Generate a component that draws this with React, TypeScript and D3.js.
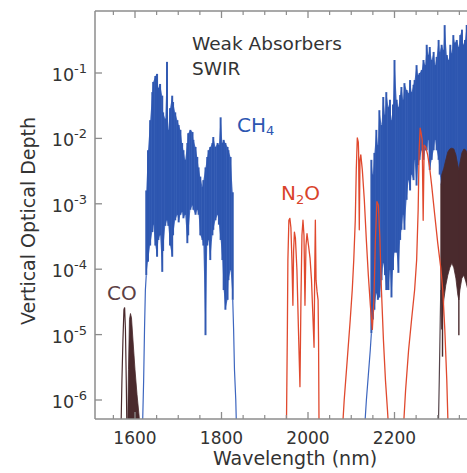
import React from 'react';
import * as d3 from 'd3';

// ---------- data (wavelength nm, vertical optical depth) ----------
// CH4 spectral lines: [wavelength, upper value, lower value]
const ch4Band1: [number, number, number][] = [
  [1626, 1.6e-3, 8.1e-5], [1630, 6.6e-3, 1.3e-4], [1635, 1.9e-2, 2.3e-4], [1640, 5.1e-2, 3.7e-4],
  [1642, 7.3e-2, 4.8e-4], [1647, 9.0e-2, 2.3e-4], [1651, 9.7e-2, 1.55e-4], [1654, 5.9e-2, 2.8e-4],
  [1658, 6.8e-2, 3.3e-4], [1663, 4.5e-2, 9.1e-5], [1665, 2.5e-2, 1.9e-4], [1670, 2.0e-2, 4.6e-4],
  [1674, 1.48e-1, 5.6e-4], [1677, 1.35e-2, 4.6e-4], [1681, 2.9e-2, 2.3e-4], [1686, 4.5e-2, 1.55e-4],
  [1688, 3.6e-2, 3.3e-4], [1693, 2.5e-2, 5.6e-4], [1698, 1.9e-2, 6.8e-4], [1701, 1.6e-2, 5.2e-4],
  [1705, 1.35e-2, 6.8e-4], [1709, 8.5e-3, 7.5e-4], [1712, 6.6e-3, 6.0e-4], [1716, 4.7e-3, 6.8e-4],
  [1721, 8.5e-3, 2.5e-4], [1723, 1.2e-2, 3.3e-4], [1728, 1.35e-2, 8.1e-4], [1733, 1.25e-2, 9.5e-4],
  [1735, 9.5e-3, 8.1e-4], [1740, 7.4e-3, 6.8e-4], [1744, 5.2e-3, 8.1e-4], [1747, 3.6e-3, 6.8e-4],
  [1751, 2.6e-3, 3.3e-4], [1756, 1.8e-3, 2.8e-4], [1758, 2.3e-3, 2.3e-4], [1763, 3.6e-3, 9.8e-6],
  [1767, 5.2e-3, 2.3e-4], [1770, 6.6e-3, 2.8e-4], [1774, 7.4e-3, 1.38e-4], [1779, 8.5e-3, 3.3e-4],
  [1781, 1.05e-2, 4.0e-4], [1786, 7.4e-3, 5.6e-4], [1791, 8.5e-3, 6.8e-4], [1794, 7.9e-3, 4.8e-4],
  [1798, 2.1e-2, 2.8e-4], [1802, 8.5e-3, 1.38e-4], [1805, 9.5e-3, 4.8e-5], [1809, 8.5e-3, 2.4e-5],
  [1814, 7.4e-3, 3.4e-5], [1816, 6.6e-3, 6.8e-5], [1821, 5.2e-3, 9.7e-5], [1826, 1.5e-3, 3.4e-5],
];
const ch4Band1WingL: [number, number][] = [[1617, 3e-7], [1620, 2.0e-6], [1622, 1.2e-5], [1624, 4.8e-5], [1626, 8.1e-5]];
const ch4Band1WingR: [number, number][] = [[1826, 3.4e-5], [1828, 1.2e-5], [1830, 2.9e-6], [1833, 1e-6], [1835, 3e-7]];

const ch4Band2: [number, number, number][] = [
  [2146.5, 4.7e-3, 1.05e-5], [2150, 2.8e-3, 1.7e-5], [2153.5, 6.0e-3, 2.4e-5], [2158, 1.35e-2, 4.3e-5],
  [2161.5, 7.9e-3, 3.4e-5], [2165, 2.7e-2, 3.7e-5], [2170, 1.6e-2, 6.8e-5], [2174, 4.3e-2, 1.24e-4],
  [2178, 2.3e-2, 8.1e-5], [2181, 5.1e-2, 4.8e-5], [2186, 3.0e-2, 4.8e-5], [2189.5, 3.9e-2, 9.7e-5],
  [2193, 1.9e-2, 3.7e-5], [2196.5, 3.3e-2, 9.7e-5], [2200, 1.58e-1, 1.8e-4], [2205, 3.9e-2, 1.8e-4],
  [2209, 3.0e-2, 8.8e-5], [2213, 4.6e-2, 2.8e-4], [2216, 6.1e-2, 4.0e-4], [2220, 3.9e-2, 6.8e-4],
  [2223, 7.0e-2, 4.0e-4], [2228, 5.5e-2, 1.15e-3], [2232.5, 4.9e-2, 2.3e-3], [2236, 7.8e-2, 1.6e-3],
  [2239.5, 5.1e-2, 2.8e-3], [2244, 6.6e-2, 2.3e-3], [2246.5, 7.8e-2, 4.7e-3], [2251, 1.32e-1, 1.9e-3],
  [2254.5, 9.3e-2, 3.9e-3], [2258, 1.0e-1, 4.7e-3], [2263, 1.11e-1, 6.6e-3], [2267, 1.58e-1, 4.7e-3],
  [2271, 1.32e-1, 6.6e-3], [2274.5, 2.7e-1, 6.6e-3], [2278, 1.88e-1, 9.5e-3], [2281.5, 2.5e-1, 3.3e-3],
  [2286, 1.58e-1, 4.7e-3], [2290.5, 2.1e-1, 6.6e-3], [2294, 1.32e-1, 9.5e-3], [2297.5, 1.76e-1, 6.6e-3],
  [2302, 3.2e-1, 4.7e-3], [2304.5, 2.1e-1, 2.8e-3], [2309, 2.7e-1, 1.9e-3], [2313, 2.25e-1, 1.6e-3],
  [2316, 5.4e-1, 1.15e-3], [2321, 1.88e-1, 1.36e-3], [2325.5, 1.58e-1, 1.15e-3], [2329, 2.7e-1, 1.6e-3],
  [2332.5, 2.0e-1, 1.6e-3], [2336, 3.8e-1, 1.15e-3], [2339.5, 2.9e-1, 1.36e-3], [2344, 3.2e-1, 1.15e-3],
  [2349, 2.5e-1, 1.6e-3], [2352, 3.8e-1, 1.36e-3], [2356, 4.6e-1, 1.15e-3], [2359, 2.7e-1, 1.6e-3],
  [2363, 3.2e-1, 1.36e-3], [2367, 5.4e-1, 1.15e-3], [2371, 5.8e-1, 1.36e-3], [2374, 4.6e-1, 1.15e-3],
  [2379, 4.9e-1, 1.15e-3],
];
const ch4Band2WingL: [number, number][] = [[2130, 3e-7], [2135, 1e-6], [2139.5, 2.4e-6], [2144, 5.8e-6], [2146.5, 1.05e-5]];

// N2O absorption curves: [wavelength, value]
const n2oBand1: [number, number][] = [
  [1950.0, 3e-7], [1952.3, 1.2e-5], [1953.5, 1.38e-4], [1955.8, 5.6e-4], [1958.1, 6.0e-4], [1960.5, 4.3e-4],
  [1962.8, 1.38e-4], [1965.1, 2.8e-5], [1966.7, 1.9e-4], [1968.6, 3.7e-4], [1970.9, 3.0e-4], [1974.4, 9.7e-5],
  [1977.9, 1.2e-5], [1981.4, 1.6e-6], [1983.7, 3.4e-5], [1986.0, 3.3e-4], [1988.4, 5.6e-4], [1990.7, 3.3e-4],
  [1993.0, 2.8e-5], [1995.3, 2.3e-4], [1997.7, 3.5e-4], [2001.2, 2.3e-4], [2004.7, 1.48e-4], [2008.1, 6.8e-5],
  [2011.6, 1.7e-5], [2014.0, 6.4e-6], [2015.6, 9.7e-5], [2017.0, 5.6e-4], [2018.6, 6.8e-5], [2021.0, 4.5e-5],
  [2023.3, 3.4e-5], [2024.4, 8.3e-6], [2025.6, 3e-7],
];
const n2oBand2: [number, number][] = [
  [2079, 3e-7], [2083.7, 1e-6], [2090.7, 4.1e-6], [2097.7, 1.7e-5], [2102.3, 4.8e-5], [2105.8, 1.38e-4],
  [2109.3, 5.6e-4], [2111.6, 3.3e-3], [2114.0, 1.02e-2], [2116.3, 8.8e-3], [2117.0, 6.2e-3], [2118.6, 4.0e-4],
  [2120.2, 4.7e-3], [2122.1, 5.6e-3], [2125.6, 3.3e-3], [2130.2, 1.15e-3], [2134.9, 2.8e-4], [2139.5, 8.1e-5],
  [2144.2, 2.8e-5], [2148.8, 1.2e-5], [2152.3, 3.4e-5], [2155.8, 2.8e-4], [2159.3, 1.08e-3], [2162.8, 9.5e-4],
  [2166.3, 2.8e-4], [2169.8, 4.8e-5], [2174.4, 8.3e-6], [2179.1, 2.0e-6], [2183.7, 7.1e-7], [2187.2, 3e-7],
];
const n2oBand3: [number, number][] = [
  [2219.8, 3e-7], [2225.6, 1.4e-6], [2232.6, 5.8e-6], [2239.5, 1.7e-5], [2246.5, 4.8e-5], [2251.2, 1.38e-4],
  [2254.7, 8.1e-4], [2257.0, 6.6e-3], [2259.3, 1.44e-2], [2261.6, 1.2e-2], [2264.0, 9.5e-3], [2266.3, 5.6e-4],
  [2268.6, 7.9e-3], [2272.1, 7.4e-3], [2276.7, 5.6e-3], [2281.4, 3.5e-3], [2286.0, 1.9e-3], [2293.0, 6.8e-4],
  [2300.0, 2.5e-4], [2307.0, 1.05e-4], [2311.6, 4.8e-5], [2316.3, 1.2e-5], [2320.9, 2.0e-6], [2324.4, 3e-7],
];

// CO
const coBand1Outline: [number, number][] = [
  [1567.4, 3e-7], [1569.8, 2.0e-6], [1572.1, 8.3e-6], [1574.4, 2.4e-5], [1576, 2.6e-5], [1577.9, 1.2e-5],
  [1579.8, 2.0e-6], [1581.4, 3e-7],
];
const coBand1Fill: [number, number][] = [
  [1582.6, 3e-7], [1584.9, 2.9e-6], [1587.2, 1.7e-5], [1589.5, 2.1e-5], [1591.9, 1.8e-5], [1595.3, 8.3e-6],
  [1600, 2.9e-6], [1604.7, 1.2e-6], [1609.3, 5.9e-7], [1612.8, 3e-7],
];
const coBand2: [number, number, number][] = [
  [2307.0, 1.9e-3, 4.8e-5], [2309.3, 2.8e-3, 1.2e-5], [2314.0, 3.5e-3, 3.4e-5], [2318.6, 4.7e-3, 5.7e-5],
  [2323.3, 6.2e-3, 8.1e-5], [2327.9, 6.9e-3, 1.05e-4], [2332.6, 7.1e-3, 1.24e-4], [2337.2, 6.9e-3, 1.05e-4],
  [2341.9, 5.6e-3, 7.3e-5], [2346.5, 3.9e-3, 4.0e-5], [2348.8, 3.3e-3, 3.4e-5], [2351.2, 4.2e-3, 4.8e-5],
  [2355.8, 6.0e-3, 7.3e-5], [2360.5, 6.9e-3, 8.1e-5], [2365.1, 6.6e-3, 6.4e-5], [2369.8, 5.4e-3, 4.8e-5],
  [2374.4, 4.2e-3, 4.0e-5], [2379.1, 3.3e-3, 3.4e-5],
];
const coBand2Wing: [number, number][] = [[2301.2, 3e-7], [2303.5, 2.0e-6], [2305.8, 1.7e-5], [2307, 4.8e-5]];
const coBand2Lines: [number, number, number][] = [[2311, 2.8e-3, 4.6e-6], [2348.8, 3.3e-3, 9.8e-6]];

// axis ticks
const xMajorTicks = [1600, 1800, 2000, 2200, 2400];
const xTickLabels = ['1600', '1800', '2000', '2200'];
const xMinorTicks = [1550, 1650, 1700, 1750, 1850, 1900, 1950, 2050, 2100, 2150, 2250, 2300, 2350];
const yTickExponents = [-1, -2, -3, -4, -5, -6];

// ---------- layout ----------
const W = 467;
const H = 473;
const FONT = 'DejaVu Sans, Verdana, sans-serif';
const BLUE = '#2c55b0';
const RED = '#e0492e';
const BROWN = '#4a2a2d';
const AXIS = '#8c8c8c';

const x = d3.scaleLinear().domain([1600, 2200]).range([135, 394.5]);
const y = d3.scaleLog().domain([1e-6, 1e-1]).range([400, 73]);
const left = 95;
const right = 500;
const top = 11;
const bottom = 419;

const line = d3
  .line<[number, number]>()
  .x((d) => x(d[0]))
  .y((d) => y(d[1]));

const areaToBottom = d3
  .area<[number, number]>()
  .x((d) => x(d[0]))
  .y0(bottom + 5)
  .y1((d) => y(d[1]));

const band = d3
  .area<[number, number, number]>()
  .x((d) => x(d[0]))
  .y0((d) => y(d[2]))
  .y1((d) => y(d[1]));

export default function App() {
  const spikes = (data: [number, number, number][], color: string, w: number, key: string) =>
    data.map((d, i) => (
      <line key={key + i} x1={x(d[0])} x2={x(d[0])} y1={y(d[1])} y2={y(d[2])} stroke={color} strokeWidth={w} />
    ));

  return (
    <svg width={W} height={H} style={{ position: 'absolute', left: 0, top: 0, background: '#fff' }} fontFamily={FONT}>
      <defs>
        <clipPath id="plot">
          <rect x={left} y={top} width={right - left} height={bottom - top} />
        </clipPath>
      </defs>
      <rect x={0} y={0} width={W} height={H} fill="#fff" />

      <g clipPath="url(#plot)">
        {/* CH4 */}
        <path d={band(ch4Band1) || ''} fill="#3a63bb" stroke="none" opacity={0.9} />
        <g opacity={0.95}>{spikes(ch4Band1, BLUE, 2, 'c1')}</g>
        <path d={line(ch4Band1WingL) || ''} fill="none" stroke="#3d66bf" strokeWidth={1.2} />
        <path d={line(ch4Band1WingR) || ''} fill="none" stroke="#3d66bf" strokeWidth={1.2} />
        <path d={band(ch4Band2) || ''} fill="#3a63bb" stroke="none" opacity={0.9} />
        <g opacity={0.95}>{spikes(ch4Band2, BLUE, 2, 'c2')}</g>
        <path d={line(ch4Band2WingL) || ''} fill="none" stroke="#3d66bf" strokeWidth={1.2} />

        {/* CO */}
        <path d={line(coBand1Outline) || ''} fill="none" stroke={BROWN} strokeWidth={1.2} />
        <path d={areaToBottom(coBand1Fill) || ''} fill={BROWN} stroke={BROWN} strokeWidth={0.8} />
        <path d={band(coBand2) || ''} fill={BROWN} stroke={BROWN} strokeWidth={0.8} />
        <path d={line(coBand2Wing) || ''} fill="none" stroke="#55444a" strokeWidth={1.2} />
        {spikes(coBand2Lines, BROWN, 1.4, 'co')}

        {/* N2O */}
        {[n2oBand1, n2oBand2, n2oBand3].map((b, i) => (
          <path key={'n' + i} d={line(b) || ''} fill="none" stroke={RED} strokeWidth={1.3} strokeLinejoin="round" />
        ))}
      </g>

      {/* frame */}
      <line x1={left} x2={left} y1={top} y2={bottom} stroke={AXIS} strokeWidth={1.5} />
      <line x1={left} x2={right} y1={bottom} y2={bottom} stroke={AXIS} strokeWidth={1.5} />
      <line x1={left} x2={right} y1={top} y2={top} stroke={AXIS} strokeWidth={1.5} />

      {/* x ticks */}
      {xMajorTicks.map((t) => (
        <g key={'xm' + t}>
          <line x1={x(t)} x2={x(t)} y1={bottom} y2={bottom - 7} stroke={AXIS} strokeWidth={1.3} />
          <line x1={x(t)} x2={x(t)} y1={top} y2={top + 7} stroke={AXIS} strokeWidth={1.3} />
        </g>
      ))}
      {xTickLabels.map((t) => (
        <text key={'xl' + t} x={x(+t)} y={444} textAnchor="middle" fontSize={17} fill="#333">
          {t}
        </text>
      ))}
      {xMinorTicks.map((t) => (
        <g key={'xn' + t}>
          <line x1={x(t)} x2={x(t)} y1={bottom} y2={bottom - 4} stroke={AXIS} strokeWidth={1.2} />
          <line x1={x(t)} x2={x(t)} y1={top} y2={top + 4} stroke={AXIS} strokeWidth={1.2} />
        </g>
      ))}

      {/* y ticks */}
      {yTickExponents.map((e) => (
        <g key={'y' + e}>
          <line x1={left} x2={left + 7} y1={y(Math.pow(10, e))} y2={y(Math.pow(10, e))} stroke={AXIS} strokeWidth={1.3} />
          <text x={87} y={y(Math.pow(10, e)) + 8} textAnchor="end" fill="#333" fontSize={17.5}>
            <tspan>10</tspan>
            <tspan dy={-8} fontSize={13}>{'-' + Math.abs(e)}</tspan>
          </text>
        </g>
      ))}

      {/* axis titles */}
      <text x={295} y={465} textAnchor="middle" fontSize={19} fill="#333">
        Wavelength (nm)
      </text>
      <text transform="translate(35,221) rotate(-90)" textAnchor="middle" fontSize={19} fill="#333">
        Vertical Optical Depth
      </text>

      {/* annotations */}
      <text x={192} y={50} fontSize={18.5} fill="#333">Weak Absorbers</text>
      <text x={192} y={75} fontSize={18.5} fill="#333">SWIR</text>
      <text x={237} y={132} fontSize={20} fill="#2d56b1">
        CH<tspan dy={3} fontSize={13}>4</tspan>
      </text>
      <text x={281} y={200} fontSize={20} fill="#d9432b">
        N<tspan dy={4} fontSize={13}>2</tspan>
        <tspan dy={-4}>O</tspan>
      </text>
      <text x={107} y={300} fontSize={20} fill="#5c4044">CO</text>
    </svg>
  );
}
